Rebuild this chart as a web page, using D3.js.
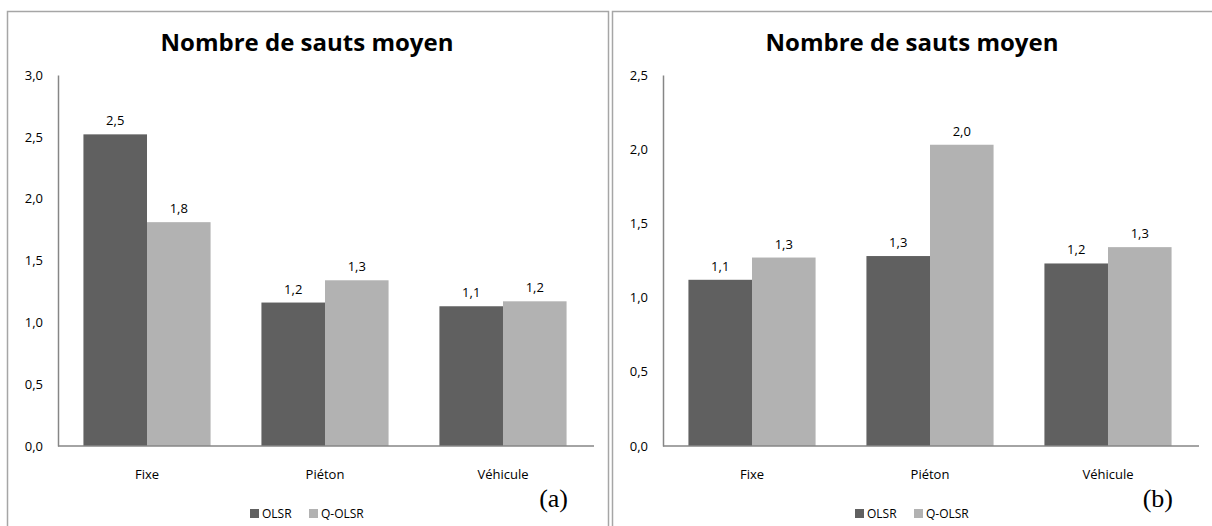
<!DOCTYPE html>
<html>
<head>
<meta charset="utf-8">
<script src="https://cdn.jsdelivr.net/npm/d3@7"></script>
<style>
  body { margin: 0; background: #fff; }
  text { font-family: "Open Sans", sans-serif; }
</style>
</head>
<body>
<div id="chart"></div>
<script>
// categories and series
var categories = ["Fixe", "Piéton", "Véhicule"];
var seriesNames = ["OLSR", "Q-OLSR"];
var olsrA = [2.52, 1.16, 1.13];
var qolsrA = [1.81, 1.34, 1.17];
var olsrB = [1.12, 1.28, 1.23];
var qolsrB = [1.27, 2.03, 1.34];
var ticksA = [0, 0.5, 1, 1.5, 2, 2.5, 3];
var ticksB = [0, 0.5, 1, 1.5, 2, 2.5];
var title = "Nombre de sauts moyen";

var colors = ["#606060", "#b2b2b2"];
var fmt = function(v) { return d3.format(".1f")(v).replace(".", ","); };

var svg = d3.select("#chart")
  .append("svg")
    .attr("width", 1212)
    .attr("height", 526);

function drawPanel(offsetX, olsr, qolsr, ticks, tag) {
  var g = svg.append("g")
    .attr("transform", "translate(" + offsetX + ",0)");

  // frame
  g.append("rect")
    .attr("x", 7.5).attr("y", 11.5)
    .attr("width", 601).attr("height", 530)
    .attr("fill", "none")
    .attr("stroke", "#a6a6a6")
    .attr("stroke-width", 1.5);

  var margin = {left: 58, right: 592, top: 75, bottom: 446};

  // gap width 80% of a bar, like the office chart
  var x0 = d3.scaleBand()
    .domain(categories)
    .range([margin.left, margin.right])
    .paddingInner(0.2857)
    .paddingOuter(0.1429);

  var x1 = d3.scaleBand()
    .domain(seriesNames)
    .range([0, x0.bandwidth()]);

  var y = d3.scaleLinear()
    .domain([0, d3.max(ticks)])
    .range([margin.bottom, margin.top]);

  // title
  g.append("text")
    .attr("x", 307)
    .attr("y", 51)
    .attr("text-anchor", "middle")
    .style("font-size", "24px")
    .style("font-weight", "bold")
    .text(title);

  var rows = categories.map(function(c, i) {
    return {cat: c, vals: [olsr[i], qolsr[i]]};
  });

  var groups = g.append("g")
    .selectAll("g")
    .data(rows)
    .enter()
    .append("g")
      .attr("transform", function(d) { return "translate(" + x0(d.cat) + ",0)"; });

  groups.selectAll("rect")
    .data(function(d) { return d.vals.map(function(v, j) { return {s: seriesNames[j], v: v, j: j}; }); })
    .enter()
    .append("rect")
      .attr("x", function(d) { return x1(d.s); })
      .attr("y", function(d) { return y(d.v); })
      .attr("width", x1.bandwidth())
      .attr("height", function(d) { return y(0) - y(d.v); })
      .attr("fill", function(d) { return colors[d.j]; });

  groups.selectAll("text")
    .data(function(d) { return d.vals.map(function(v, j) { return {s: seriesNames[j], v: v}; }); })
    .enter()
    .append("text")
      .attr("x", function(d) { return x1(d.s) + x1.bandwidth() / 2; })
      .attr("y", function(d) { return y(d.v) - 9; })
      .attr("text-anchor", "middle")
      .style("font-size", "13px")
      .text(function(d) { return fmt(d.v); });

  // y axis
  var yAxis = g.append("g")
    .attr("transform", "translate(" + margin.left + ",0)")
    .call(d3.axisLeft(y).tickValues(ticks).tickSize(0).tickPadding(15).tickFormat(fmt));
  yAxis.select(".domain").attr("stroke", "#868686").attr("stroke-width", 1.5);
  yAxis.selectAll("text").style("font-size", "13px").attr("fill", "#000")
    .style("font-family", "'Open Sans', sans-serif");

  // x axis
  var xAxis = g.append("g")
    .attr("transform", "translate(0," + margin.bottom + ")")
    .call(d3.axisBottom(x0).tickSize(0).tickPadding(24));
  xAxis.select(".domain").attr("d", "M" + margin.left + ",0H" + (margin.right + 2))
    .attr("stroke", "#868686").attr("stroke-width", 1.5);
  xAxis.selectAll("text").style("font-size", "13px").attr("fill", "#000")
    .style("font-family", "'Open Sans', sans-serif");

  // legend
  var leg = g.append("g").attr("transform", "translate(250,509)");
  var items = leg.selectAll("g")
    .data(seriesNames)
    .enter()
    .append("g")
      .attr("transform", function(d, i) { return "translate(" + (i * 59) + ",0)"; });
  items.append("rect")
    .attr("width", 9).attr("height", 9)
    .attr("fill", function(d, i) { return colors[i]; });
  items.append("text")
    .attr("x", 12).attr("y", 9)
    .style("font-size", "12px")
    .text(function(d) { return d; });

  // panel tag
  g.append("text")
    .attr("x", 568)
    .attr("y", 507)
    .attr("text-anchor", "end")
    .style("font-family", "'Liberation Serif', 'Times New Roman', serif")
    .style("font-size", "26px")
    .text(tag);
}

drawPanel(0, olsrA, qolsrA, ticksA, "(a)");
drawPanel(605, olsrB, qolsrB, ticksB, "(b)");
</script>
</body>
</html>
